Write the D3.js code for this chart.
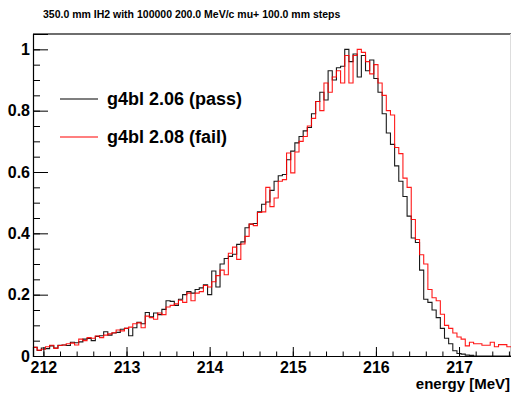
<!DOCTYPE html>
<html>
<head>
<meta charset="utf-8">
<script src="https://cdn.jsdelivr.net/npm/d3@7"></script>
<style>
  body { margin: 0; background: #fff; }
  text { font-family: "Liberation Sans", Arial, Helvetica, sans-serif; font-weight: bold; fill: #000; }
</style>
</head>
<body>
<svg id="chart" width="511" height="393"></svg>
<script>
// Histogram binning (MeV)
const binLow = 211.875;
const binWidth = 0.05;

// Normalised bin contents, one value per 0.05 MeV bin
const g4bl206 = [
  0.028, 0.018, 0.026, 0.024, 0.033, 0.026, 0.035, 0.036, 0.034, 0.045,
  0.043, 0.046, 0.055, 0.057, 0.050, 0.064, 0.066, 0.079, 0.068, 0.075,
  0.077, 0.087, 0.090, 0.066, 0.092, 0.110, 0.105, 0.142, 0.128, 0.140,
  0.135, 0.152, 0.180, 0.178, 0.165, 0.185, 0.200, 0.210, 0.205, 0.217,
  0.222, 0.232, 0.200, 0.277, 0.225, 0.300, 0.318, 0.325, 0.332, 0.364,
  0.372, 0.418, 0.430, 0.432, 0.470, 0.495, 0.502, 0.540, 0.570, 0.588,
  0.592, 0.640, 0.668, 0.695, 0.716, 0.734, 0.745, 0.790, 0.830, 0.860,
  0.835, 0.930, 0.900, 0.940, 0.945, 1.000, 0.960, 0.985, 0.910, 0.980,
  0.930, 0.965, 0.905, 0.860, 0.790, 0.727, 0.690, 0.620, 0.570, 0.520,
  0.456, 0.385, 0.370, 0.280, 0.185, 0.175, 0.150, 0.125, 0.090, 0.058,
  0.040, 0.017, 0.008, 0.006, 0.003, 0.002, 0, 0, 0, 0,
  0, 0, 0, 0, 0
];
const g4bl208 = [
  0.028, 0.019, 0.022, 0.030, 0.035, 0.025, 0.034, 0.036, 0.040, 0.042,
  0.036, 0.055, 0.050, 0.060, 0.058, 0.065, 0.060, 0.068, 0.072, 0.076,
  0.085, 0.082, 0.090, 0.094, 0.105, 0.108, 0.092, 0.130, 0.125, 0.120,
  0.140, 0.135, 0.160, 0.165, 0.170, 0.182, 0.175, 0.205, 0.180, 0.205,
  0.210, 0.230, 0.225, 0.242, 0.262, 0.280, 0.265, 0.335, 0.355, 0.315,
  0.365, 0.390, 0.430, 0.425, 0.468, 0.470, 0.550, 0.487, 0.515, 0.570,
  0.575, 0.662, 0.597, 0.665, 0.700, 0.716, 0.750, 0.775, 0.830, 0.800,
  0.890, 0.860, 0.910, 0.930, 0.890, 0.980, 0.890, 0.980, 1.000, 0.990,
  0.960, 0.920, 0.950, 0.890, 0.850, 0.800, 0.786, 0.680, 0.660, 0.580,
  0.550, 0.445, 0.380, 0.330, 0.300, 0.217, 0.190, 0.180, 0.136, 0.100,
  0.090, 0.075, 0.062, 0.055, 0.033, 0.045, 0.040, 0.040, 0.035, 0.035,
  0.045, 0.030, 0.037, 0.037, 0.030
];

const xTicks = [212, 213, 214, 215, 216, 217];
const yTicks = [0, 0.2, 0.4, 0.6, 0.8, 1];
const title = "350.0 mm IH2 with 100000 200.0 MeV/c mu+ 100.0 mm steps";
const xTitle = "energy [MeV]";
const seriesNames = ["g4bl 2.06 (pass)", "g4bl 2.08 (fail)"];
const seriesColors = ["#000000", "#ff0000"];

const svg = d3.select("#chart");
const frame = { left: 33, right: 511, top: 34, bottom: 356 };
const nBins = g4bl206.length;

const x = d3.scaleLinear()
  .domain([binLow, binLow + nBins * binWidth])
  .range([frame.left, frame.right]);
const y = d3.scaleLinear().domain([0, 1.05]).range([frame.bottom, frame.top]);

svg.append("defs").append("clipPath").attr("id", "plotArea")
  .append("rect").attr("x", frame.left).attr("y", frame.top - 1)
  .attr("width", frame.right - frame.left).attr("height", frame.bottom - frame.top + 1);

// Title
svg.append("text").attr("x", 43).attr("y", 18)
  .style("font-size", "10.5px").text(title);

// Frame top and right
svg.append("line").attr("x1", frame.left).attr("x2", frame.right)
  .attr("y1", frame.top).attr("y2", frame.top)
  .attr("stroke", "#6e6e6e").attr("stroke-width", 2);
svg.append("line").attr("x1", frame.right - 0.5).attr("x2", frame.right - 0.5)
  .attr("y1", frame.top).attr("y2", frame.bottom)
  .attr("stroke", "#dddddd").attr("stroke-width", 1);

// Histograms as step lines
const stepLine = d3.line().curve(d3.curveStepAfter)
  .x(d => x(d[0])).y(d => y(d[1]));
function stepPoints(vals) {
  const pts = vals.map((v, i) => [binLow + i * binWidth, v]);
  pts.push([binLow + vals.length * binWidth, vals[vals.length - 1]]);
  return pts;
}
const plot = svg.append("g").attr("clip-path", "url(#plotArea)");
[g4bl206, g4bl208].forEach((vals, k) => {
  plot.append("path").datum(stepPoints(vals))
    .attr("d", stepLine)
    .attr("fill", "none")
    .attr("stroke", seriesColors[k])
    .attr("stroke-width", 1.1)
    .attr("stroke-opacity", 0.9);
});

// Y axis: major and minor ticks pointing into the plot
const yAxis = svg.append("g").attr("transform", `translate(${frame.left},0)`)
  .call(d3.axisLeft(y).tickValues(yTicks).tickSize(-15).tickPadding(3)
    .tickFormat(d3.format("~g")));
yAxis.selectAll("text").style("font-size", "16px");
svg.append("g").attr("transform", `translate(${frame.left},0)`)
  .call(d3.axisLeft(y).tickValues(d3.range(0, 1.0001, 0.05)).tickSize(-7).tickFormat(""))
  .call(g => g.select(".domain").remove());

// X axis: major and minor ticks pointing into the plot
const xAxis = svg.append("g").attr("transform", `translate(0,${frame.bottom})`)
  .call(d3.axisBottom(x).tickValues(xTicks).tickSize(-9).tickPadding(6)
    .tickFormat(d3.format("d")));
xAxis.selectAll("text").style("font-size", "16px");
svg.append("g").attr("transform", `translate(0,${frame.bottom})`)
  .call(d3.axisBottom(x).tickValues(d3.range(212, 217.61, 0.2)).tickSize(-4.5).tickFormat(""))
  .call(g => g.select(".domain").remove());

svg.selectAll(".domain").attr("stroke", "#000").attr("stroke-width", 1.2);
svg.selectAll(".tick line").attr("stroke", "#000");

// Axis title
svg.append("text").attr("x", 510).attr("y", 389)
  .attr("text-anchor", "end").style("font-size", "15px").text(xTitle);

// Legend
const legendY = [99, 137];
seriesNames.forEach((name, k) => {
  svg.append("line").attr("x1", 60).attr("x2", 98)
    .attr("y1", legendY[k]).attr("y2", legendY[k])
    .attr("stroke", seriesColors[k]).attr("stroke-width", 1.1);
  svg.append("text").attr("x", 107).attr("y", legendY[k] + 5.5)
    .style("font-size", "18px").text(name);
});
</script>
</body>
</html>
